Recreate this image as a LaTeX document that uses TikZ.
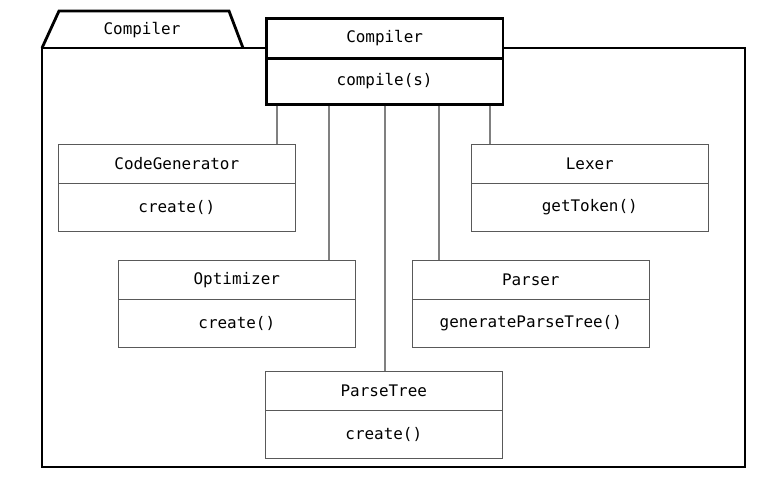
\documentclass[tikz,border=0pt]{standalone}
\usepackage{fontspec}
\setmonofont{DejaVu Sans Mono}
\usetikzlibrary{positioning}
\tikzset{
  pkgline/.style={line width=2.4pt, line join=miter},
  classname/.style={draw=black!65, fill=white, line width=0.8pt, anchor=north west,
    minimum width=7.1cm, minimum height=1.17cm, inner sep=0pt,
    font=\ttfamily\fontsize{13.6}{15}\selectfont},
  classop/.style={classname, minimum height=1.44cm},
  mainname/.style={classname, draw=black, line width=2.2pt, minimum width=7.1cm, minimum height=1.2cm},
  mainop/.style={mainname, minimum height=1.38cm},
  link/.style={draw=black!50, line width=0.9pt}
}
\begin{document}
\begin{tikzpicture}[x=0.03cm, y=-0.03cm]
\useasboundingbox (0,0) rectangle (782,484);
% Package frame with its tab
\draw[pkgline] (42,48) rectangle (745,467);
\draw[pkgline] (42,48) -- (59,11) -- (229,11) -- (243,48);
\node[font=\ttfamily\fontsize{13.6}{15}\selectfont] (pkg) at (142,30) {Compiler};
% The facade class, drawn over the frame
\node[mainname] (comp-name) at (265,17) {Compiler};
\node[mainop, below=-2.2pt of comp-name] (comp-op) {compile(s)};
% The subsystem classes
\foreach \n/\x/\y/\cname/\cop in {cg/58/144/CodeGenerator/{create()},
  lex/471/144/Lexer/{getToken()}, opt/118/260/Optimizer/{create()},
  par/412/260/Parser/{generateParseTree()}, pt/265/371/ParseTree/{create()}}
{
  \node[classname] (\n-name) at (\x,\y) {\cname};
  \node[classop, below=-0.8pt of \n-name] (\n-op) {\cop};
}
% Links from the facade down to each class
\foreach \n/\lx in {cg/277, opt/329, pt/385, par/439, lex/490}
{
  \draw[link] (comp-op.south -| \lx,0) -- (\n-name.north -| \lx,0);
}
\end{tikzpicture}
\end{document}
